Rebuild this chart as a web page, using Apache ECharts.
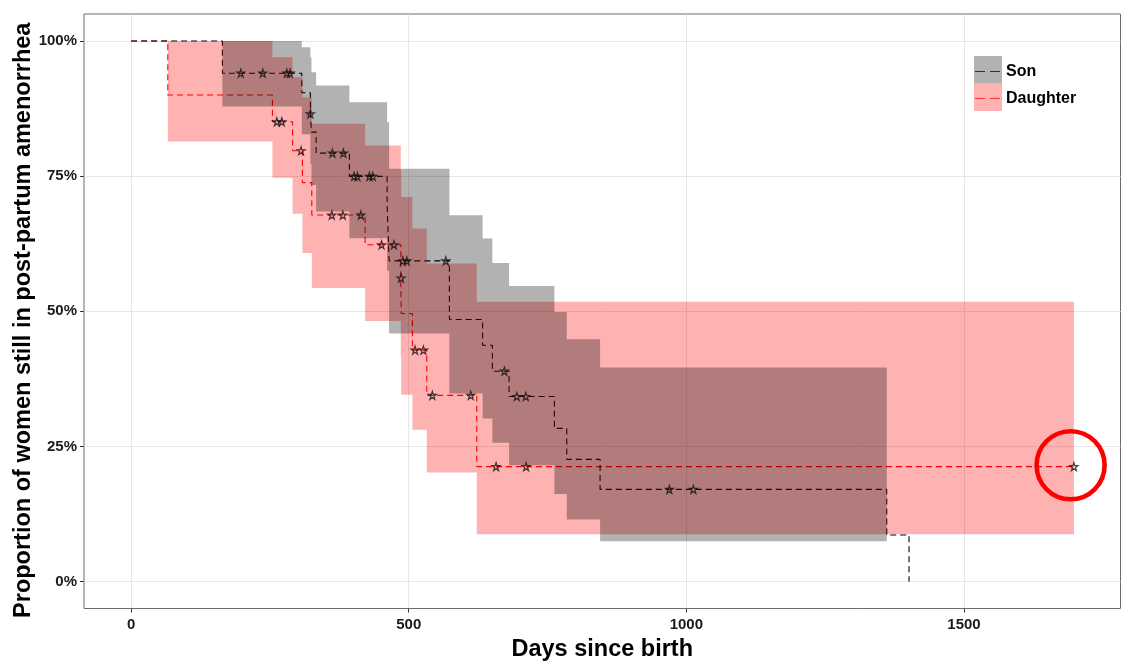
<!DOCTYPE html>
<html lang="en">
<head>
    <meta charset="UTF-8">
    <title>amenorrhea</title>
    <script src="https://cdn.jsdelivr.net/npm/echarts@6/dist/echarts.min.js"></script>
    <style>
        body { margin: 0; background: #fff; }
    </style>
</head>
<body>
<div id="main" style="width: 1124px;height:664px;"></div>

<script>
    // Kaplan-Meier steps (days, % still in amenorrhea), bands are per step
    const sonTime  = [0, 164.4, 307.4, 322.8, 324.8, 333.2, 393.1, 461, 464.6, 573.2, 633, 650.6, 680.7, 762.3, 784.6, 844.6, 1360.9, 1401];
    const sonSurv  = [100, 94.05, 90.43, 86.54, 83.14, 79.26, 74.95, 69.91, 59.33, 48.47, 43.72, 38.91, 34.23, 28.32, 22.59, 17.04, 8.6, 0];
    const sonUpper = [null, 100, 98.85, 97.0, 94.23, 91.77, 88.69, 84.99, 76.38, 67.74, 63.44, 58.93, 54.68, 49.87, 44.82, 39.59, null, null];
    const sonLower = [null, 87.9, 82.73, 77.2, 73.36, 68.45, 63.5, 57.5, 45.88, 34.8, 30.15, 25.68, 21.5, 16.2, 11.45, 7.45, null, null];

    const daughterTime  = [0, 66.1, 254.5, 290.8, 308.5, 325.4, 421.4, 485.7, 486.5, 506.6, 532.5, 622.5, 1698];
    const daughterSurv  = [100, 90.0, 85.06, 79.7, 73.8, 67.8, 62.3, 56.15, 49.57, 42.8, 34.44, 21.26, 21.26];
    const daughterUpper = [null, 100, 97.0, 93.31, 89.61, 84.7, 80.68, 76.0, 71.13, 65.29, 58.82, 51.76, null];
    const daughterLower = [null, 81.42, 74.7, 68.06, 60.78, 54.3, 48.2, 41.5, 34.55, 28.06, 20.17, 8.75, null];

    // censoring marks
    const sonCensorTime = [197.5, 237.2, 280.4, 286.3, 322.8, 362.5, 382.3, 401.6, 407.5, 429.1, 435.3, 489.3, 496.5, 566.7, 672.3, 694.6, 710.8, 969.4, 1012.6];
    const sonCensorSurv = [94.05, 94.05, 94.05, 94.05, 86.54, 79.26, 79.26, 74.95, 74.95, 74.95, 74.95, 59.33, 59.33, 59.33, 38.91, 34.23, 34.23, 17.04, 17.04];
    const daughterCensorTime = [262.4, 271.4, 306.1, 361.4, 381.2, 413.7, 451.1, 473.3, 486.2, 511.4, 526.4, 542.6, 611.7, 657.3, 711.3, 1698];
    const daughterCensorSurv = [85.06, 85.06, 79.7, 67.8, 67.8, 67.8, 62.3, 62.3, 56.15, 42.8, 42.8, 34.44, 34.44, 21.26, 21.26, 21.26];

    const xTicks = [0, 500, 1000, 1500];
    const yTicks = [0, 25, 50, 75, 100];
    const circlePoint = [1692, 21.5];

    const FONT = 'Liberation Sans';
    const STAR = 'path://M50,2 L61,37 L98,37 L68,59 L79,95 L50,73 L21,95 L32,59 L2,37 L39,37 Z';

    const pairs = (xs, ys) => xs.map((x, i) => [x, ys[i]]);

    // step ribbon as one polygon
    const ribbon = function (time, lower, upper, fill, z) {
        return {
            type: 'custom',
            silent: true,
            z: z,
            data: [[time[0], 100]],
            renderItem: function (params, api) {
                let top = [], bottom = [];
                for (let i = 0; i < time.length - 1; i++) {
                    if (upper[i] == null) continue;
                    top.push(api.coord([time[i], upper[i]]), api.coord([time[i + 1], upper[i]]));
                    bottom.push(api.coord([time[i], lower[i]]), api.coord([time[i + 1], lower[i]]));
                }
                return {
                    type: 'polygon',
                    shape: {points: top.concat(bottom.reverse())},
                    style: {fill: fill, stroke: null}
                };
            }
        };
    };

    const censor = function (xs, ys) {
        return {
            type: 'scatter',
            z: 5,
            silent: true,
            symbol: STAR,
            symbolSize: 8,
            itemStyle: {color: 'rgba(0,0,0,0)', borderColor: '#111', borderWidth: 1.2},
            data: pairs(xs, ys)
        };
    };

    const axisText = {fontSize: 15, fontWeight: 'bold', color: '#1a1a1a', fontFamily: FONT};
    const titleText = {fontSize: 23.5, fontWeight: 'bold', color: '#000', fontFamily: FONT};

    const myChart = echarts.init(document.getElementById('main'));
    myChart.setOption({
        animation: false,
        backgroundColor: '#fff',
        grid: {
            left: 84, right: 3.5, top: 14, bottom: 55.5,
            show: true, borderColor: '#6b6b6b', borderWidth: 1,
            outerBoundsMode: 'none'
        },
        xAxis: {
            type: 'value', min: -84.85, max: 1781.85,
            axisLine: {show: false, onZero: false},
            axisTick: {show: true, length: 4, customValues: xTicks, lineStyle: {color: '#333'}},
            axisLabel: Object.assign({customValues: xTicks, margin: 9, formatter: v => String(v)}, axisText),
            splitLine: {show: true, lineStyle: {color: '#e6e6e6', width: 1}},
            name: 'Days since birth', nameLocation: 'middle', nameGap: 26,
            nameTextStyle: titleText
        },
        yAxis: {
            type: 'value', min: -5, max: 105,
            axisLine: {show: false, onZero: false},
            axisTick: {show: true, length: 4, customValues: yTicks, lineStyle: {color: '#333'}},
            axisLabel: Object.assign({customValues: yTicks, margin: 7, formatter: '{value}%'}, axisText),
            splitLine: {show: true, lineStyle: {color: '#e6e6e6', width: 1}},
            name: 'Proportion of women still in post-partum amenorrhea', nameLocation: 'middle', nameGap: 48,
            nameMoveOverlap: false,
            nameTextStyle: Object.assign({padding: [0, 18, 0, 0]}, titleText)
        },
        series: [
            {
                type: 'line', step: 'end', z: 1, showSymbol: false, silent: true,
                lineStyle: {color: '#ff0000', width: 1.1, type: [6, 4]},
                data: pairs(daughterTime, daughterSurv)
            },
            {
                type: 'line', step: 'end', z: 1, showSymbol: false, silent: true,
                lineStyle: {color: '#000', width: 1.1, type: [6, 4]},
                data: pairs(sonTime, sonSurv)
            },
            ribbon(daughterTime, daughterLower, daughterUpper, 'rgba(255,0,0,0.3)', 2),
            ribbon(sonTime, sonLower, sonUpper, 'rgba(0,0,0,0.3)', 3),
            censor(sonCensorTime, sonCensorSurv),
            censor(daughterCensorTime, daughterCensorSurv)
        ],
        graphic: [
            {id: 'keySon', type: 'rect', shape: {x: 974, y: 56, width: 28, height: 27.5}, style: {fill: 'rgba(0,0,0,0.3)'}},
            {id: 'keyDau', type: 'rect', shape: {x: 974, y: 83.5, width: 28, height: 27.5}, style: {fill: 'rgba(255,0,0,0.3)'}},
            {id: 'lineSon', type: 'line', shape: {x1: 975, y1: 71.5, x2: 1001, y2: 71.5}, style: {stroke: '#333', lineWidth: 1, lineDash: [10, 5]}},
            {id: 'lineDau', type: 'line', shape: {x1: 975, y1: 98.5, x2: 1001, y2: 98.5}, style: {stroke: '#ff3333', lineWidth: 1, lineDash: [10, 5]}},
            {id: 'txtSon', type: 'text', x: 1006, y: 71.5, style: {text: 'Son', font: 'bold 16px "Liberation Sans"', fill: '#000', verticalAlign: 'middle'}},
            {id: 'txtDau', type: 'text', x: 1006, y: 98.5, style: {text: 'Daughter', font: 'bold 16px "Liberation Sans"', fill: '#000', verticalAlign: 'middle'}}
        ]
    });

    // red circle around the last daughter observation
    const c = myChart.convertToPixel({gridIndex: 0}, circlePoint);
    myChart.setOption({
        graphic: [{
            id: 'ring', type: 'circle', z: 100, silent: true,
            shape: {cx: c[0], cy: c[1], r: 34},
            style: {fill: null, stroke: '#ff0000', lineWidth: 4.6}
        }]
    });
</script>
</body>
</html>
